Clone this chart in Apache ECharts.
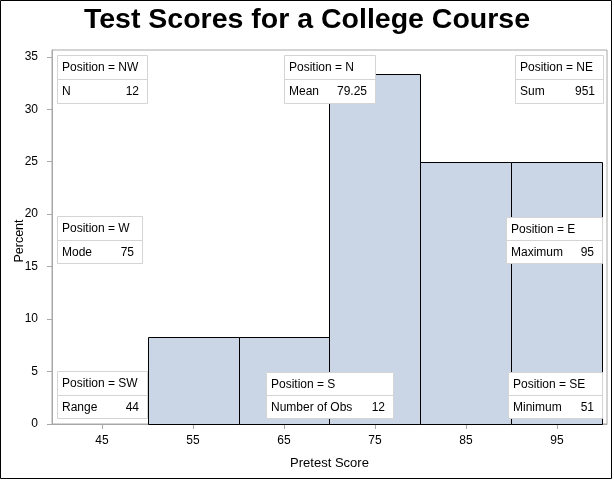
<!DOCTYPE html>
<html>
<head>
<meta charset="utf-8">
<script src="https://cdn.jsdelivr.net/npm/echarts@6/dist/echarts.min.js"></script>
<style>
  html, body { margin: 0; padding: 0; background: #fff; }
  #chart { width: 614px; height: 480px; }
</style>
</head>
<body>
<div id="chart"></div>
<script>
// histogram bins (percent of 12 scores)
const binStart = [50, 60, 70, 80, 90];
const binEnd = [60, 70, 80, 90, 100];
const binPercent = [8.33, 8.33, 33.33, 25, 25];

const xTicks = [45, 55, 65, 75, 85, 95];
const yTicks = [0, 5, 10, 15, 20, 25, 30, 35];

// inset tables
const insetPositions = ['NW', 'N', 'NE', 'W', 'E', 'SW', 'S', 'SE'];
const insetStats = ['N', 'Mean', 'Sum', 'Mode', 'Maximum', 'Range', 'Number of Obs', 'Minimum'];
const insetValues = ['12', '79.25', '951', '75', '95', '44', '12', '51'];

const FONT = '"Liberation Sans", Arial, sans-serif';

// box layout for each inset position
const boxes = {
  NW: [57, 55, 90, 48],
  N: [284, 55, 91, 48],
  NE: [515, 55, 88, 48],
  W: [57, 216, 85, 47],
  E: [506, 217, 96, 46],
  SW: [57, 371, 90, 47],
  S: [266, 372, 127, 46],
  SE: [508, 372, 94, 46]
};

function insetGraphic(pos, stat, val) {
  const [x, y, w, h] = boxes[pos];
  const row = Math.round(h / 2);
  return {
    type: 'group',
    x: x,
    y: y,
    children: [
      { type: 'rect', z: 100, shape: { x: 0.5, y: 0.5, width: w, height: h },
        style: { fill: '#fff', stroke: '#d4d4d4', lineWidth: 1 } },
      { type: 'line', z: 101, shape: { x1: 0.5, y1: row + 0.5, x2: w + 0.5, y2: row + 0.5 },
        style: { stroke: '#d4d4d4', lineWidth: 1 } },
      { type: 'text', z: 102, x: 5, y: row / 2 + 1,
        style: { text: 'Position = ' + pos, font: '12px ' + FONT, fill: '#000', verticalAlign: 'middle' } },
      { type: 'text', z: 102, x: 5, y: row + row / 2 + 1,
        style: { text: stat, font: '12px ' + FONT, fill: '#000', verticalAlign: 'middle' } },
      { type: 'text', z: 102, x: w - 8, y: row + row / 2 + 1,
        style: { text: val, font: '12px ' + FONT, fill: '#000', align: 'right', verticalAlign: 'middle' } }
    ]
  };
}

const chart = echarts.init(document.getElementById('chart'), null, { renderer: 'canvas' });

const graphics = insetPositions.map((p, i) => insetGraphic(p, insetStats[i], insetValues[i]));
graphics.push({
  type: 'rect', z: 200, silent: true,
  shape: { x: 0.5, y: 0.5, width: 611, height: 478 },
  style: { fill: 'none', stroke: '#000', lineWidth: 1 }
});

chart.setOption({
  animation: false,
  backgroundColor: '#fff',
  title: {
    text: 'Test Scores for a College Course',
    left: 'center',
    top: 1,
    textStyle: { fontFamily: FONT, fontSize: 28.5, fontWeight: 'bold', color: '#000' }
  },
  grid: {
    left: 52, right: 7, top: 50, bottom: 56,
    outerBoundsMode: 'none',
    containLabel: false,
    show: true, borderColor: '#a8a8a8', borderWidth: 1, backgroundColor: 'transparent'
  },
  xAxis: {
    type: 'value',
    min: 39.5,
    max: 100.5,
    name: 'Pretest Score',
    nameLocation: 'middle',
    nameGap: 33,
    nameMoveOverlap: false,
    nameTextStyle: { fontFamily: FONT, fontSize: 13, color: '#000' },
    splitLine: { show: false },
    axisLine: { show: true, lineStyle: { color: '#a8a8a8' } },
    axisTick: { show: true, length: 5, customValues: xTicks, lineStyle: { color: '#a8a8a8' } },
    axisLabel: { customValues: xTicks, margin: 11, fontFamily: FONT, fontSize: 12, color: '#000' }
  },
  yAxis: {
    type: 'value',
    min: 0,
    max: 35.65,
    name: 'Percent',
    nameLocation: 'middle',
    nameGap: 26,
    nameMoveOverlap: false,
    nameTextStyle: { fontFamily: FONT, fontSize: 12.5, color: '#000', padding: [0, 8, 0, 0] },
    splitLine: { show: false },
    axisLine: { show: true, lineStyle: { color: '#a8a8a8' } },
    axisTick: { show: true, length: 5, customValues: yTicks, lineStyle: { color: '#a8a8a8' } },
    axisLabel: { customValues: yTicks, margin: 14, fontFamily: FONT, fontSize: 12, color: '#000' }
  },
  series: [{
    type: 'custom',
    data: binStart.map((s, i) => [s, binEnd[i], binPercent[i]]),
    encode: { x: [0, 1], y: 2 },
    renderItem: function (params, api) {
      const p0 = api.coord([api.value(0), api.value(2)]);
      const p1 = api.coord([api.value(1), 0]);
      return {
        type: 'rect',
        shape: { x: Math.round(p0[0]) + 0.5, y: Math.round(p0[1]) + 0.5,
                 width: Math.round(p1[0]) - Math.round(p0[0]), height: Math.round(p1[1]) - Math.round(p0[1]) },
        style: { fill: '#cad5e5', stroke: '#000', lineWidth: 1 }
      };
    }
  }],
  graphic: graphics
});
</script>
</body>
</html>
